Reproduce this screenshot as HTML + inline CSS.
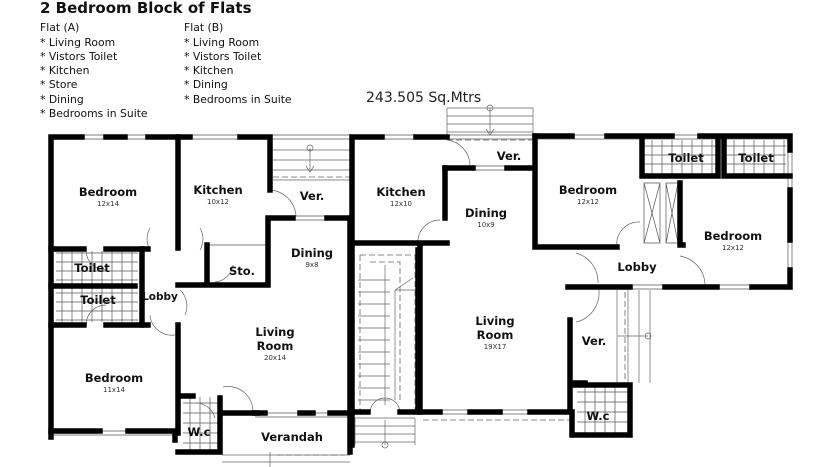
<!DOCTYPE html>
<html><head><meta charset="utf-8"><style>
html,body{margin:0;padding:0;background:#fff;width:835px;height:467px;overflow:hidden}
svg{display:block}
.w{stroke:#000;stroke-width:5.5;fill:none;stroke-linecap:square}
.t{stroke:#555;stroke-width:0.7;fill:none}
.d{stroke:#666;stroke-width:0.7;fill:none}
.ds{stroke:#666;stroke-width:0.8;fill:none;stroke-dasharray:6 3}
.h{font-family:"DejaVu Sans",sans-serif;font-size:11.5px;font-weight:bold;fill:#111;text-anchor:middle}
.s{font-family:"DejaVu Sans",sans-serif;font-size:7px;fill:#333;text-anchor:middle}
.l{font-family:"DejaVu Sans",sans-serif;font-size:10.8px;fill:#111}
</style></head><body>
<svg width="835" height="467" viewBox="0 0 835 467" xmlns="http://www.w3.org/2000/svg">
<text x="40" y="13" style="font-family:'DejaVu Sans',sans-serif;font-size:15px;font-weight:bold" fill="#111">2 Bedroom Block of Flats</text>
<g class="l">
<text x="40" y="31">Flat (A)</text><text x="40" y="46">* Living Room</text><text x="40" y="60">* Vistors Toilet</text><text x="40" y="74">* Kitchen</text><text x="40" y="88">* Store</text><text x="40" y="103">* Dining</text><text x="40" y="117">* Bedrooms in Suite</text>
<text x="184" y="31">Flat (B)</text><text x="184" y="46">* Living Room</text><text x="184" y="60">* Vistors Toilet</text><text x="184" y="74">* Kitchen</text><text x="184" y="88">* Dining</text><text x="184" y="103">* Bedrooms in Suite</text>
</g>
<text x="366" y="102" style="font-family:'DejaVu Sans',sans-serif;font-size:14px" fill="#222">243.505 Sq.Mtrs</text>

<g class="t">
<path d="M51 135H350M51 139H350M350 135H790M350 139H790"/>
<path d="M49 137V433M53 137V433M788 136V290M792 136V290"/>
<path d="M51 431H175M51 435H175M255 413H350M255 417H350M420 410H570M420 414H570"/>
<path d="M568 285H790M568 289H790M293 216H327M293 220H327M473 166H507M473 170H507M207 245H267"/>
</g>
<g class="d">
<path d="M273 150H350M273 160H350M273 170H350M273 180H350"/>
<path d="M310 148V170M306 166L310 172L314 166"/><circle cx="310" cy="148" r="3"/>
<path d="M447 108H533V136M447 108V136M447 116H533M447 124H533M447 132H533"/>
<path d="M490 108V133M486 129L490 135L494 129"/><circle cx="490" cy="108" r="3"/>
<path d="M617 290V383M628 290V383M639 290V383M650 290V383M618 336H648"/><circle cx="648" cy="336" r="3"/>
<path d="M355 418H415M355 426H415M355 434H415M355 442H415M355 418V445M415 418V445M385 420V445"/><circle cx="385" cy="445" r="3"/>
<path d="M222 455H350M222 462H350M270 452V467"/>
</g>
<g class="ds"><path d="M273 177H350M447 140H533M277 455H345M423 420H570M625 292V380M360 255H415V410M360 255V410M370 262H400V400"/></g>
<g class="d"><path d="M358 280H390M358 292H390M358 304H390M358 316H390M358 328H390M358 340H390M358 352H390M358 364H390M358 376H390M358 388H390M358 400H390M385 265V405M395 290L413 278M395 290V400M395 290H415"/></g>
<g class="t">
<path d="M56 253H138M56 262H138M56 271H138M56 280H138M56 293H138M56 302H138M56 311H138M56 320H138"/>
<path d="M62 251V322M72 251V322M82 251V322M92 251V322M102 251V322M112 251V322M122 251V322M132 251V322"/>
<path d="M645 146H716M645 155H716M645 164H716M727 146H786M727 155H786M727 164H786"/>
<path d="M652 140V176M662 140V176M672 140V176M682 140V176M692 140V176M702 140V176M712 140V176M734 140V176M744 140V176M754 140V176M764 140V176M774 140V176M784 140V176"/>
<path d="M183 403H218M183 413H218M183 423H218M183 433H218M183 443H218M190 397V450M200 397V450M210 397V450"/>
<path d="M577 392H628M577 402H628M577 412H628M577 422H628M585 387V433M595 387V433M605 387V433M615 387V433"/>
<path d="M644 183V243H660V183ZM644 183L660 243M660 183L644 243M666 183V243H678V183ZM666 183L678 243M678 183L666 243"/>
</g>
<g class="d">
<path d="M270 190A28 28 0 0 1 296 216"/><path d="M150 228A22 22 0 0 0 150 250M200 228A22 22 0 0 1 200 250"/>
<path d="M150 315A22 22 0 0 0 175 335M180 290A22 22 0 0 1 185 315"/><path d="M233 265A20 20 0 0 1 215 282"/>
<path d="M86 250A20 20 0 0 0 106 270M86 325A20 20 0 0 1 106 305"/>
<path d="M223 387A25 25 0 0 1 253 413"/><path d="M196 403A20 20 0 0 1 215 418"/>
<path d="M447 140A26 26 0 0 1 470 165"/><path d="M418 243A22 22 0 0 1 440 220"/>
<path d="M617 247A22 22 0 0 1 640 222M576 253A30 30 0 0 1 598 283M576 322A30 30 0 0 0 598 285M680 256A30 30 0 0 1 705 285"/>
<path d="M370 412A15 15 0 0 1 385 398M400 412A15 15 0 0 0 385 398"/>
</g>
<g class="w">
<path d="M51 437V137H82M106 137H125M148 137H190M240 137H270V190"/>
<path d="M51 431H100M128 431H175V440M51 249H84M106 249H148M51 325H84M106 325H148M51 286H135"/>
<path d="M142 249V325M178 137V248M178 325V433M178 285H205M208 285H268V218H293M327 218H350V413"/>
<path d="M207 245V283M257 413H225M181 396H193M220 398V452H178"/>
<path d="M350 413V452M255 413H265M300 413H313M330 413H350"/>
<path d="M352 445V137H382M416 137H447M445 168V218M352 243H447M418 250V412M420 245V412M352 412H368M400 412H420"/>
<path d="M445 168H473M535 136V166M507 168H535V247H617"/>
<path d="M535 136H572M607 136H672M700 136H766M770 136H790V150M790 190V240M790 270V287H752M717 287H665M630 287H568"/>
<path d="M645 176H718V140M724 176V140M724 176H790M642 140V176M680 183V245H683"/>
<path d="M420 412H440M470 412H500M530 412H570V320M570 380V383H585M575 385H630V435H572V412"/>
</g>

<g>
<text class="h" x="108" y="196">Bedroom</text><text class="s" x="108" y="206">12x14</text>
<text class="h" x="218" y="194">Kitchen</text><text class="s" x="218" y="204">10x12</text>
<text class="h" x="312" y="200">Ver.</text>
<text class="h" x="312" y="257">Dining</text><text class="s" x="312" y="267">9x8</text>
<text class="h" x="242" y="275">Sto.</text>
<text class="h" x="92" y="272">Toilet</text><text class="h" x="98" y="304">Toilet</text>
<text class="h" x="160" y="300" style="font-size:10.5px">Lobby</text>
<text class="h" x="275" y="336">Living</text><text class="h" x="275" y="350">Room</text><text class="s" x="275" y="360">20x14</text>
<text class="h" x="114" y="382">Bedroom</text><text class="s" x="114" y="392">11x14</text>
<text class="h" x="199" y="436">W.c</text>
<text class="h" x="292" y="441">Verandah</text>
<text class="h" x="401" y="196">Kitchen</text><text class="s" x="401" y="206">12x10</text>
<text class="h" x="509" y="160">Ver.</text>
<text class="h" x="486" y="217">Dining</text><text class="s" x="486" y="227">10x9</text>
<text class="h" x="588" y="194">Bedroom</text><text class="s" x="588" y="204">12x12</text>
<text class="h" x="686" y="162">Toilet</text><text class="h" x="756" y="162">Toilet</text>
<text class="h" x="733" y="240">Bedroom</text><text class="s" x="733" y="250">12x12</text>
<text class="h" x="637" y="271">Lobby</text>
<text class="h" x="495" y="325">Living</text><text class="h" x="495" y="339">Room</text><text class="s" x="495" y="349">19X17</text>
<text class="h" x="594" y="345">Ver.</text>
<text class="h" x="598" y="420">W.c</text>
</g>
</svg>
</body></html>
